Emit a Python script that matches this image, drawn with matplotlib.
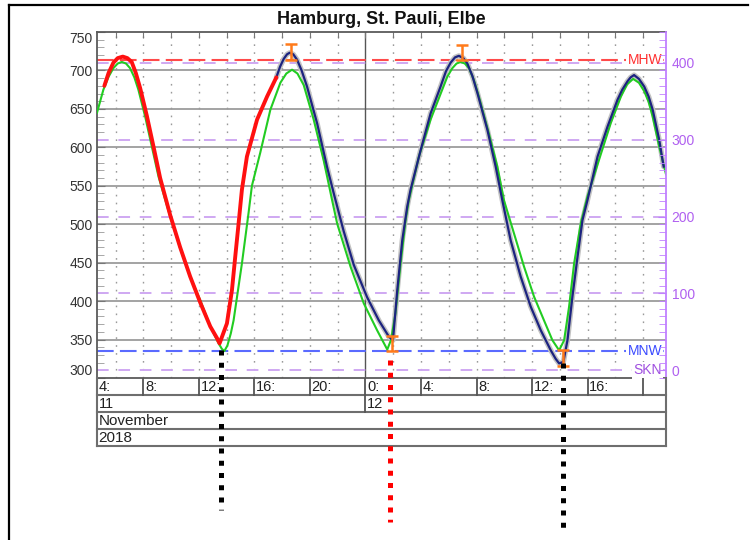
import matplotlib
matplotlib.use('Agg')
import matplotlib.pyplot as plt
from matplotlib.ticker import MultipleLocator, FixedLocator
from matplotlib.lines import Line2D

plt.rcParams['font.family'] = ['Liberation Sans', 'DejaVu Sans']

# ---------------- data (time = hours since 11 Nov 2018 00:00, level in cm) -------------
green_t = [4.66, 5.12, 5.50, 5.84, 6.15, 6.45, 6.75, 7.04, 7.35, 7.64, 8.13, 8.61, 9.09,
           9.93, 10.65, 11.37, 12.10, 12.82, 13.42, 13.65, 13.83, 14.05, 14.30, 14.50,
           15.10, 15.58, 15.82, 16.42, 17.15, 17.87, 18.30, 18.71, 19.10, 19.55, 20.27,
           20.99, 21.60, 21.96, 22.92, 23.88, 24.84, 25.57, 25.85, 26.16, 26.53, 26.89,
           27.12, 27.85, 28.69, 29.53, 29.90, 30.26, 30.56, 30.86, 31.16, 31.46, 31.80,
           32.17, 32.89, 33.50, 33.98, 34.70, 35.42, 36.14, 36.86, 37.47, 37.95, 38.31,
           38.67, 39.03, 39.51, 39.99, 40.36, 40.83, 41.68, 42.40, 42.85, 43.28, 43.70,
           44.08, 44.40, 44.69, 45.16, 45.65]
green_v = [645, 675, 692, 703, 709, 711, 709, 703, 691, 675, 640, 601, 562,
           510, 469, 432, 401, 367, 345, 338, 335, 342, 358, 375,
           449, 515, 550, 593, 649, 684, 696, 701, 696, 681, 636,
           583, 531, 501, 445, 397, 362, 337, 350, 384, 449, 505,
           531, 588, 636, 675, 692, 703, 709, 711, 709, 703, 688,
           666, 618, 575, 531, 488, 445, 406, 375, 349, 336, 349,
           393, 449, 501, 536, 557, 584, 632, 666, 682, 689, 684,
           673, 659, 640, 601, 565]

red_t = [5.19, 5.50, 5.84, 6.15, 6.52, 6.85, 7.16, 7.45, 7.77, 8.25, 8.73, 9.21, 9.93,
         10.65, 11.37, 12.10, 12.82, 13.30, 13.49, 14.02, 14.38, 14.62, 14.86, 15.10,
         15.46, 16.19, 16.91, 17.58]
red_v = [680, 697, 710, 716, 718, 716, 711, 697, 677, 641, 601, 560, 512,
         470, 432, 398, 367, 352, 345, 371, 414, 458, 501, 545,
         588, 636, 666, 691]

blue_t = [17.58, 17.85, 18.11, 18.35, 18.54, 18.80, 19.07, 19.40, 19.79, 20.52, 21.24,
          21.76, 22.43, 23.16, 24.12, 24.96, 25.68, 25.98, 26.29, 26.65, 27.01, 27.25,
          27.97, 28.69, 29.41, 29.80, 30.13, 30.45, 30.73, 31.05, 31.34, 31.70, 32.06,
          32.78, 33.38, 33.86, 34.46, 35.18, 35.90, 36.63, 37.35, 37.70, 37.95, 38.26,
          38.55, 38.91, 39.28, 39.63, 39.99, 40.72, 41.44, 42.16, 42.50, 42.88, 43.10,
          43.35, 43.70, 44.08, 44.40, 44.69, 45.16, 45.48]
blue_v = [691, 705, 715, 721, 723, 721, 714, 700, 679, 631, 574,
          537, 491, 447, 405, 375, 354, 349, 414, 479, 523, 545,
          596, 644, 679, 699, 710, 717, 719, 716, 709, 693, 671,
          623, 575, 531, 479, 432, 393, 362, 336, 325, 319, 321,
          349, 406, 458, 505, 531, 588, 627, 662, 675, 686, 691,
          694, 689, 679, 666, 649, 610, 575]

err_t = [18.60, 25.88, 30.95, 38.26]
err_lo = [713, 335, 713, 316]
err_hi = [734, 355, 733, 336]

MHW = 713
MNW = 335.5
SKN = 310
skn_levels = [0, 100, 200, 300, 400]

low_t = [13.61, 25.80, 38.21]
low_top = [337, 323, 319]
low_colors = ['black', 'red', 'black']

hour_ticks = [4, 8, 12, 16, 20, 24, 28, 32, 36, 40, 44]
hour_labels = ['4:', '8:', '12:', '16:', '20:', '0:', '4:', '8:', '12:', '16:', '20:']
day_ticks = [0, 24]
day_labels = ['11', '12']
month_label = 'November'
year_label = '2018'
title = 'Hamburg, St. Pauli, Elbe'

# ---------------- layout ----------------
W_PX, H_PX = 752, 540
fig = plt.figure(figsize=(W_PX / 100, H_PX / 100), dpi=100)
ax_l, ax_r, ax_t, ax_b = 97, 666, 32, 378
rows_b = 446
X0, X1 = 4.66, 45.65
Y0, Y1 = 300, 750

ax = fig.add_axes([ax_l / W_PX, 1 - ax_b / H_PX, (ax_r - ax_l) / W_PX, (ax_b - ax_t) / H_PX])
ax.set_xlim(X0, X1)
ax.set_ylim(Y0, Y1)

# grid
for y in range(350, 701, 50):
    ax.axhline(y, color='#8a8a8a', lw=1.1, zorder=1)
for t in range(6, 46, 2):
    if t == 24:
        ax.axvline(t, color='#555555', lw=1.0, zorder=1)
    else:
        ax.axvline(t, color='#9a9a9a', lw=1.0, dashes=(1.2, 4.5), zorder=1)

# reference lines
purple = '#cfa8f2'
for lv in skn_levels:
    ax.axhline(SKN + lv, color=purple, lw=1.4, dashes=(6, 5), zorder=2)
ax.axhline(MHW, color='#ff4a4a', lw=1.5, dashes=(8, 3), zorder=2)
ax.axhline(MNW, color='#5a6aff', lw=1.5, dashes=(8, 3), zorder=2)

lbl_kw = dict(transform=ax.transAxes, ha='right', va='center', fontsize=10,
              bbox=dict(facecolor='white', edgecolor='none', pad=1.0), zorder=3)
def yfrac(v):
    return (v - Y0) / (Y1 - Y0)
ax.text(0.993, yfrac(MHW), 'MHW', color='#ff3030', **lbl_kw)
ax.text(0.993, yfrac(MNW), 'MNW', color='#3a4aff', **lbl_kw)
ax.text(0.993, yfrac(SKN), 'SKN', color='#a050e0', **lbl_kw)

# curves
ax.plot(blue_t, blue_v, color='#c2c2c2', lw=3.8, zorder=4, solid_capstyle='round')
ax.plot(green_t, green_v, color='#22cc22', lw=1.5, zorder=5)
ax.plot(blue_t, blue_v, color='#1c2380', lw=1.6, zorder=6)
ax.plot(red_t, red_v, color='#ff1010', lw=2.8, zorder=7, solid_capstyle='round')

# error bars
for t, lo, hi in zip(err_t, err_lo, err_hi):
    ax.errorbar([t], [(lo + hi) / 2], yerr=[[(hi - lo) / 2], [(hi - lo) / 2]], fmt='none',
                ecolor='#ff7a1a', elinewidth=1.8, capsize=4.5, capthick=1.8, zorder=8)

# low-tide markers extending below the axes
px_per_unit = (ax_b - ax_t) / (Y1 - Y0)
low_end_px = [510, 522, 533]
for t, top, c, end_px in zip(low_t, low_top, low_colors, low_end_px):
    bottom = Y0 - (end_px - ax_b) / px_per_unit
    ln = Line2D([t, t], [top, bottom], color=c, lw=3.6, dashes=(1.0, 1.45),
                dash_capstyle='butt', transform=ax.transData, clip_on=False, zorder=20)
    fig.add_artist(ln)

# axes styling
for s in ['left', 'top', 'bottom']:
    ax.spines[s].set_color('#5a5a5a')
    ax.spines[s].set_linewidth(1.3)
ax.spines['right'].set_visible(False)
ax.yaxis.set_major_locator(FixedLocator(list(range(300, 751, 50))))
ax.yaxis.set_minor_locator(MultipleLocator(10))
ax.tick_params(axis='y', which='major', direction='in', length=6, color='#777777',
               labelsize=10, labelcolor='#333333', pad=3)
ax.tick_params(axis='y', which='minor', direction='in', length=5, color='#999999')
ax.xaxis.set_major_locator(FixedLocator(list(range(6, 46, 2))))
ax.tick_params(axis='x', which='major', direction='in', length=4, color='#777777',
               bottom=False, top=True, labelbottom=False, labeltop=False)
ylabels = ax.get_yticklabels()
ylabels[0].set_va('bottom')
ylabels[-1].set_va('top')

# right axis (relative to SKN)
ax2 = ax.twinx()
ax2.set_ylim(Y0 - SKN, Y1 - SKN)
pc = '#b060f0'
for s in ['left', 'top', 'bottom']:
    ax2.spines[s].set_visible(False)
ax2.spines['right'].set_color('#c080ff')
ax2.spines['right'].set_linewidth(1.3)
ax2.yaxis.set_major_locator(FixedLocator(skn_levels))
ax2.yaxis.set_minor_locator(MultipleLocator(10))
ax2.tick_params(axis='y', which='major', direction='in', length=6, color='#c080ff',
                labelsize=10, labelcolor=pc, pad=4)
ax2.tick_params(axis='y', which='minor', direction='in', length=5, color='#c080ff')

# time label rows below the plot
bx = fig.add_axes([ax_l / W_PX, 1 - rows_b / H_PX, (ax_r - ax_l) / W_PX, (rows_b - ax_b) / H_PX])
bx.set_xlim(X0, X1)
bx.set_ylim(0, 4)
bx.axis('off')
rc = '#6e6e6e'
for y in [0, 1, 2, 3]:
    bx.plot([X0, X1], [y, y], color=rc, lw=1.5, clip_on=False, solid_capstyle='projecting')
bx.plot([X0, X0], [0, 4], color=rc, lw=1.5, clip_on=False)
bx.plot([X1, X1], [0, 4], color=rc, lw=1.5, clip_on=False)
pad_h = 0.12
for t, lab in zip(hour_ticks, hour_labels):
    if X0 < t < X1:
        bx.plot([t, t], [3, 4], color='#555555', lw=1.3)
    xs = max(t, X0)
    if xs + 2.2 < X1:
        bx.text(xs + pad_h, 3.45, lab, ha='left', va='center', fontsize=10.5, color='#222222')
for t, lab in zip(day_ticks, day_labels):
    if X0 < t < X1:
        bx.plot([t, t], [2, 3], color='#555555', lw=1.3)
    bx.text(max(t, X0) + pad_h, 2.45, lab, ha='left', va='center', fontsize=10.5, color='#222222')
bx.text(X0 + pad_h, 1.45, month_label, ha='left', va='center', fontsize=11, color='#222222')
bx.text(X0 + pad_h, 0.45, year_label, ha='left', va='center', fontsize=11, color='#222222')

# title
fig.text((ax_l + ax_r) / 2 / W_PX, 1 - 20 / H_PX, title, ha='center', va='center',
         fontsize=13, fontweight='bold', color='#111111')

# outer frame (top and left edges)
fig.add_artist(Line2D([9 / W_PX, 748 / W_PX], [1 - 5 / H_PX, 1 - 5 / H_PX],
                      color='black', lw=1.6, transform=fig.transFigure))
fig.add_artist(Line2D([9 / W_PX, 9 / W_PX], [1 - 5 / H_PX, 0],
                      color='black', lw=1.6, transform=fig.transFigure))

fig.savefig('out.png', dpi=100)
